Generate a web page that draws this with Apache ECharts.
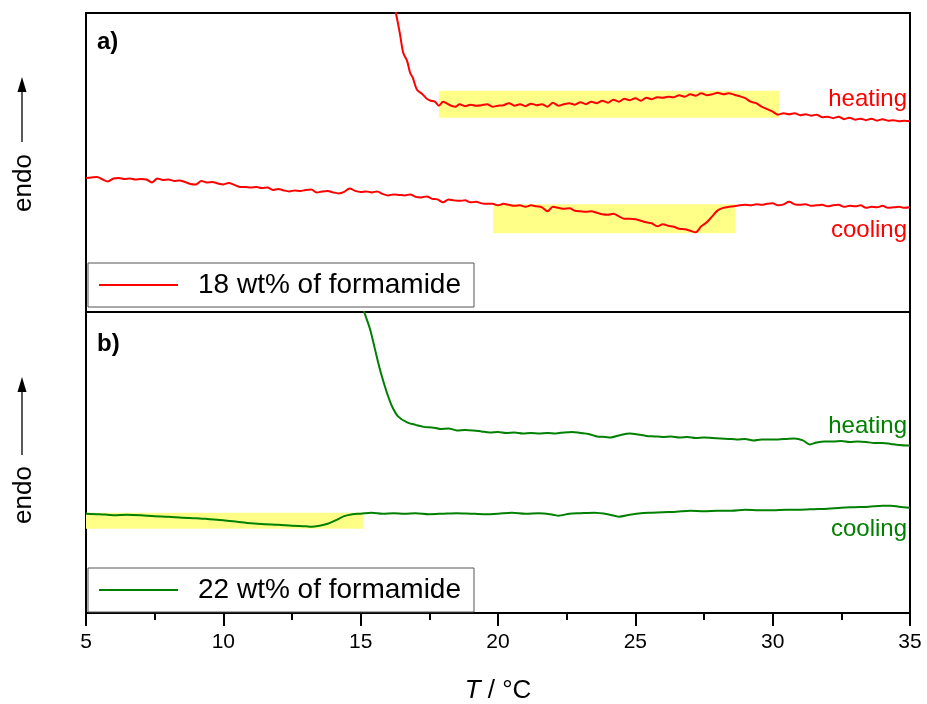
<!DOCTYPE html>
<html>
<head>
<meta charset="utf-8">
<script src="https://cdn.jsdelivr.net/npm/echarts@6/dist/echarts.min.js"></script>
<style>
  html, body { margin: 0; padding: 0; background: #fff; }
  #chart { width: 927px; height: 704px; }
</style>
</head>
<body>
<div id="chart"></div>
<script>
// Temperature axis (°C)
const tMin = 5, tMax = 35, tStep = 5;

// DSC traces, [T / °C, heat flow (arb. units, endo up)]
const heatA = [
  [16.2,31.0],[16.29,29.9],[16.43,27.9],[16.55,26.0],[16.69,25.2],[16.8,24.0],[16.9,23.5],[17.05,22.3],
  [17.23,21.9],[17.41,21.4],[17.55,21.2],[17.7,21.1],[17.85,20.7],[18.0,21.1],[18.15,20.9],[18.3,20.7],
  [18.45,20.6],[18.6,20.85],[18.8,20.65],[19.0,20.8],[19.2,20.7],[19.4,20.75],[19.6,20.85],[19.8,20.6],
  [20.0,20.7],[20.2,20.75],[20.4,20.95],[20.6,20.7],[20.8,20.85],[21.0,20.65],[21.2,20.9],[21.4,20.75],
  [21.6,20.85],[21.8,20.6],[22.0,21.0],[22.2,20.7],[22.4,20.85],[22.6,20.95],[22.8,20.8],[23.0,21.05],
  [23.2,20.85],[23.4,21.1],[23.6,20.95],[23.8,21.2],[24.0,21.0],[24.2,21.3],[24.4,21.1],[24.6,21.4],
  [24.8,21.25],[25.0,21.45],[25.2,21.2],[25.4,21.5],[25.6,21.35],[25.8,21.55],[26.0,21.5],[26.2,21.6],
  [26.4,21.55],[26.6,21.75],[26.8,21.6],[27.0,21.85],[27.2,21.7],[27.4,21.95],[27.6,21.75],[27.8,21.85],
  [28.0,22.0],[28.2,21.85],[28.4,21.95],[28.6,21.8],[28.8,21.65],[29.0,21.45],[29.2,21.1],[29.4,20.95],
  [29.6,20.6],[29.8,20.35],[30.0,20.1],[30.2,19.8],[30.4,19.95],[30.6,19.85],[30.8,19.95],[31.0,19.75],
  [31.2,19.85],[31.4,19.7],[31.6,19.8],[31.8,19.55],[32.0,19.6],[32.2,19.45],[32.4,19.6],[32.6,19.35],
  [32.8,19.5],[33.0,19.3],[33.2,19.4],[33.4,19.25],[33.6,19.4],[33.8,19.2],[34.0,19.35],[34.2,19.2],
  [34.4,19.25],[34.6,19.15],[34.8,19.2],[35.0,19.15]
];

const coolA = [
  [5.0,13.45],[5.2,13.5],[5.4,13.55],[5.6,13.3],[5.8,13.1],[6.0,13.4],[6.2,13.45],[6.4,13.35],
  [6.6,13.4],[6.8,13.3],[7.0,13.35],[7.2,13.3],[7.4,13.0],[7.6,13.4],[7.8,13.25],[8.0,13.3],
  [8.2,13.15],[8.4,13.2],[8.6,13.05],[8.8,12.85],[9.0,12.8],[9.2,13.15],[9.4,13.0],[9.6,13.05],
  [9.8,12.9],[10.0,12.8],[10.2,12.95],[10.4,12.75],[10.6,12.55],[10.8,12.55],[11.0,12.5],[11.2,12.55],
  [11.4,12.45],[11.6,12.5],[11.8,12.25],[12.0,12.35],[12.2,12.2],[12.4,12.1],[12.6,12.2],[12.8,12.15],
  [13.0,12.25],[13.2,12.3],[13.4,12.0],[13.6,12.1],[13.8,12.15],[14.0,12.0],[14.2,11.9],[14.4,12.05],
  [14.6,12.4],[14.8,12.15],[15.0,12.05],[15.2,12.1],[15.4,12.0],[15.6,12.1],[15.8,11.85],[16.0,11.7],
  [16.2,11.8],[16.4,11.75],[16.6,11.7],[16.8,11.8],[17.0,11.55],[17.2,11.5],[17.4,11.6],[17.6,11.35],
  [17.8,11.3],[18.0,11.0],[18.2,11.3],[18.4,11.2],[18.6,11.15],[18.8,11.2],[19.0,11.0],[19.2,11.05],
  [19.4,10.9],[19.6,10.85],[19.8,10.85],[20.0,10.7],[20.2,10.85],[20.4,10.75],[20.6,10.65],[20.8,10.7],
  [21.0,10.55],[21.2,10.7],[21.4,10.6],[21.6,10.5],[21.8,10.1],[22.0,10.55],[22.2,10.45],[22.4,10.35],
  [22.6,10.4],[22.8,10.15],[23.0,10.1],[23.2,10.05],[23.4,10.1],[23.6,9.95],[23.8,9.8],[24.0,9.75],
  [24.2,9.85],[24.4,9.6],[24.6,9.35],[24.8,9.35],[25.0,9.3],[25.2,9.15],[25.4,9.0],[25.6,8.9],
  [25.8,8.6],[26.0,8.8],[26.2,8.65],[26.4,8.55],[26.6,8.35],[26.8,8.3],[27.0,8.15],[27.2,8.0],
  [27.4,8.6],[27.6,9.0],[27.8,9.6],[28.0,10.2],[28.2,10.45],[28.4,10.55],[28.6,10.6],[28.8,10.7],
  [29.0,10.75],[29.2,10.7],[29.4,10.8],[29.6,10.75],[29.8,10.85],[30.0,10.9],[30.2,10.7],[30.4,10.8],
  [30.6,11.05],[30.8,10.8],[31.0,10.75],[31.2,10.8],[31.4,10.65],[31.6,10.7],[31.8,10.75],[32.0,10.6],
  [32.2,10.7],[32.4,10.75],[32.6,10.55],[32.8,10.65],[33.0,10.6],[33.2,10.7],[33.4,10.45],[33.6,10.55],
  [33.8,10.5],[34.0,10.65],[34.2,10.45],[34.4,10.5],[34.6,10.55],[34.8,10.45],[35.0,10.5]
];

const heatB = [
  [15.0,31.5],[15.12,30.1],[15.34,28.3],[15.52,26.3],[15.7,24.3],[15.88,22.6],[16.0,21.6],[16.14,20.6],
  [16.36,19.6],[16.69,19.0],[17.0,18.75],[17.3,18.55],[17.6,18.5],[17.9,18.35],[18.2,18.4],[18.5,18.2],
  [18.8,18.25],[19.1,18.2],[19.4,18.1],[19.7,18.0],[20.0,18.05],[20.3,17.95],[20.6,18.0],[20.9,17.9],
  [21.2,17.95],[21.5,17.9],[21.8,17.95],[22.1,17.9],[22.4,18.0],[22.7,18.05],[23.0,17.95],[23.3,17.85],
  [23.6,17.6],[23.9,17.55],[24.1,17.5],[24.4,17.7],[24.8,17.9],[25.1,17.8],[25.4,17.65],[25.7,17.6],
  [26.0,17.55],[26.3,17.6],[26.6,17.5],[26.9,17.55],[27.2,17.45],[27.5,17.5],[27.8,17.45],[28.1,17.4],
  [28.4,17.35],[28.7,17.3],[29.0,17.35],[29.3,17.2],[29.6,17.3],[29.9,17.3],[30.2,17.3],[30.5,17.35],
  [30.8,17.4],[31.1,17.2],[31.35,16.8],[31.6,17.0],[31.9,17.1],[32.2,17.1],[32.5,17.15],[32.8,17.05],
  [33.1,17.1],[33.4,17.05],[33.7,16.95],[34.0,16.95],[34.3,16.85],[34.6,16.75],[34.9,16.7],[35.0,16.7]
];

const coolB = [
  [5.0,9.9],[5.5,9.85],[6.0,9.75],[6.5,9.8],[7.0,9.75],[7.5,9.65],[8.0,9.6],[8.5,9.5],
  [9.0,9.45],[9.5,9.35],[10.0,9.25],[10.5,9.1],[11.0,8.95],[11.5,8.85],[12.0,8.8],[12.5,8.7],
  [13.0,8.65],[13.2,8.6],[13.5,8.7],[13.8,8.9],[14.1,9.25],[14.4,9.65],[14.7,9.85],[15.0,9.9],
  [15.4,10.0],[15.8,9.9],[16.2,9.95],[16.6,9.9],[17.0,9.95],[17.5,9.85],[18.0,9.9],[18.5,9.95],
  [19.0,9.9],[19.5,9.85],[20.0,9.9],[20.5,10.0],[21.0,9.9],[21.5,9.95],[22.0,9.8],[22.2,9.7],
  [22.6,9.9],[23.0,9.95],[23.5,10.0],[24.0,9.85],[24.4,9.6],[24.8,9.8],[25.2,9.95],[25.6,10.0],
  [26.0,10.05],[26.5,10.1],[27.0,10.2],[27.5,10.15],[28.0,10.2],[28.5,10.2],[29.0,10.3],[29.5,10.25],
  [30.0,10.25],[30.5,10.3],[31.0,10.3],[31.5,10.35],[32.0,10.4],[32.5,10.5],[33.0,10.55],[33.5,10.6],
  [34.0,10.7],[34.3,10.7],[34.6,10.6],[35.0,10.5]
];

// Transition regions, [T start, T end, low, high]
const bandsA = [[17.85, 30.23, 19.5, 22.2], [19.82, 28.63, 7.9, 10.8]];
const bandsB = [[5.0, 15.08, 8.4, 10.0]];

const nameA = '18 wt% of formamide';
const nameB = '22 wt% of formamide';
const RED = '#ff0000', GREEN = '#008000', BAND = '#ffff88';
const FONT = 'Arial, "Liberation Sans", Helvetica, sans-serif';

const chart = echarts.init(document.getElementById('chart'), null, { renderer: 'canvas' });

function bandSeries(data, axisIdx) {
  return {
    type: 'custom',
    xAxisIndex: axisIdx, yAxisIndex: axisIdx,
    z: 1, silent: true,
    data: data,
    renderItem: function (params, api) {
      const p0 = api.coord([api.value(0), api.value(3)]);
      const p1 = api.coord([api.value(1), api.value(2)]);
      return {
        type: 'rect',
        shape: { x: p0[0], y: p0[1], width: p1[0] - p0[0], height: p1[1] - p0[1] },
        style: { fill: BAND }
      };
    }
  };
}

function traceSeries(name, data, color, axisIdx) {
  return {
    name: name, type: 'line', data: data,
    xAxisIndex: axisIdx, yAxisIndex: axisIdx,
    symbol: 'none', smooth: 0.3, z: 3, clip: true,
    lineStyle: { color: color, width: 2 },
    itemStyle: { color: color }
  };
}

function xAx(gridIndex, showLabels) {
  return {
    type: 'value', gridIndex: gridIndex, min: tMin, max: tMax, interval: tStep,
    axisLine: { show: true, lineStyle: { color: '#000', width: 2 } },
    axisTick: { show: showLabels, inside: false, length: 13, lineStyle: { color: '#000', width: 2 } },
    minorTick: { show: showLabels, splitNumber: 2, length: 7, lineStyle: { color: '#000', width: 2 } },
    axisLabel: { show: showLabels, color: '#000', fontSize: 21, fontFamily: FONT, margin: 19 },
    splitLine: { show: false },
    name: showLabels ? '{i|T} / °C' : '',
    nameLocation: 'middle', nameGap: 65,
    nameTextStyle: {
      color: '#000', fontSize: 26, fontFamily: FONT,
      rich: { i: { fontStyle: 'italic', fontSize: 26, fontFamily: FONT, color: '#000' } }
    }
  };
}

function yAx(gridIndex) {
  return {
    type: 'value', gridIndex: gridIndex, min: 0, max: 30,
    axisLine: { show: false }, axisTick: { show: false },
    axisLabel: { show: false }, splitLine: { show: false }
  };
}

function legendFor(name, top) {
  return {
    data: [name], left: 88, top: top, orient: 'horizontal',
    icon: 'rect', itemWidth: 79, itemHeight: 2, padding: [8, 13, 8, 11],
    borderColor: '#555', borderWidth: 1, backgroundColor: '#fff',
    selectedMode: false,
    textStyle: { color: '#000', fontSize: 28, fontFamily: FONT, padding: [0, 0, 0, 15] }
  };
}

function endoLabel(cy, tipY, tailY) {
  return [
    { type: 'text', x: 24, y: cy, rotation: Math.PI / 2,
      style: { text: 'endo', fill: '#000', font: '26px ' + FONT, align: 'center', verticalAlign: 'middle', textAlign: 'center', textVerticalAlign: 'middle' } },
    { type: 'line', shape: { x1: 22, y1: tailY, x2: 22, y2: tipY + 12 }, style: { stroke: '#000', lineWidth: 1.3 } },
    { type: 'polygon', shape: { points: [[22, tipY], [17.5, tipY + 15], [26.5, tipY + 15]] }, style: { fill: '#000' } }
  ];
}

function curveLabel(text, color, y) {
  return { type: 'text', x: 907, y: y,
    style: { text: text, fill: color, font: '24px ' + FONT, align: 'right', verticalAlign: 'middle', textAlign: 'right', textVerticalAlign: 'middle' } };
}

function panelTag(text, y) {
  return { type: 'text', x: 97, y: y,
    style: { text: text, fill: '#000', font: 'bold 24px ' + FONT, align: 'left', verticalAlign: 'middle', textAlign: 'left', textVerticalAlign: 'middle' } };
}

const option = {
  backgroundColor: '#fff',
  animation: false,
  textStyle: { fontFamily: FONT },
  grid: [
    { left: 86, right: 17, top: 13, height: 299, show: true, borderColor: '#000', borderWidth: 2,
      backgroundColor: 'transparent', containLabel: false, outerBoundsMode: 'none' },
    { left: 86, right: 17, top: 312, height: 301, show: true, borderColor: '#000', borderWidth: 2,
      backgroundColor: 'transparent', containLabel: false, outerBoundsMode: 'none' }
  ],
  xAxis: [xAx(0, false), xAx(1, true)],
  yAxis: [yAx(0), yAx(1)],
  legend: [legendFor(nameA, 263), legendFor(nameB, 568)],
  series: [
    bandSeries(bandsA, 0),
    bandSeries(bandsB, 1),
    traceSeries(nameA, heatA, RED, 0),
    traceSeries(nameA, coolA, RED, 0),
    traceSeries(nameB, heatB, GREEN, 1),
    traceSeries(nameB, coolB, GREEN, 1)
  ],
  graphic: [].concat(
    endoLabel(183, 77, 142),
    endoLabel(495, 377, 455),
    [
      panelTag('a)', 42),
      panelTag('b)', 344),
      curveLabel('heating', RED, 99),
      curveLabel('cooling', RED, 230),
      curveLabel('heating', GREEN, 426),
      curveLabel('cooling', GREEN, 529)
    ]
  )
};

chart.setOption(option);
</script>
</body>
</html>
